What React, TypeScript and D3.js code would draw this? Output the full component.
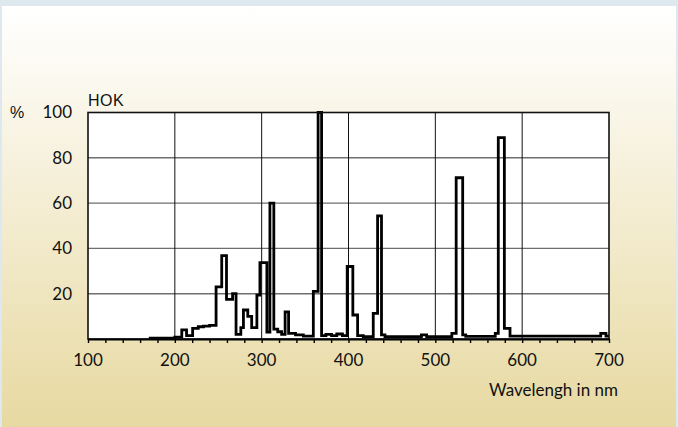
import React, { useEffect, useRef } from "react";
import * as d3 from "d3";

// step starts (nm) and relative intensity (%)
const wavelengths = [
  170, 200, 208, 213.5, 220.5, 227, 233, 240, 247.5, 254, 259.5, 266.5, 270.5,
  276, 279, 284, 288.5, 294.5, 298, 306, 309.5, 314, 318.5, 323, 327, 331, 339,
  348, 359.5, 365, 369, 374, 380.5, 386.5, 393, 398.5, 405, 410.5, 417, 428.5,
  433.5, 438, 442, 484, 490, 519, 524, 531.5, 535, 569, 572.5, 579.5, 586,
  690.5, 696.5, 700,
];
const intensity = [
  0.4, 0.8, 4, 1.5, 4.7, 5.4, 5.7, 6, 23, 36.8, 17.5, 20, 2, 5, 12.8, 10, 5,
  19.4, 33.7, 3, 60, 4.4, 3.2, 2, 12, 2.5, 1.8, 1.3, 21, 100, 1.5, 2, 1.5, 2.2,
  1.5, 32, 10.6, 1.5, 1, 11.3, 54.4, 1.8, 1, 1.8, 1, 2.5, 71.2, 1.8, 1.2, 2.5,
  88.9, 4.7, 1.3, 2.5, 1.3, 1.3,
];
const xTicks = [100, 200, 300, 400, 500, 600, 700];
const yTicks = [20, 40, 60, 80, 100];
const title = "HOK";
const xTitle = "Wavelengh in nm";

const App = () => {
  const ref = useRef(null);
  const width = 678;
  const height = 427;
  const left = 88;
  const right = 609;
  const top = 112.5;
  const bottom = 339;

  useEffect(() => {
    document.body.style.margin = "0";
    const svg = d3.select(ref.current);
    svg.selectAll("*").remove();

    const x = d3.scaleLinear([100, 700], [left, right]);
    const y = d3.scaleLinear([0, 100], [bottom, top]);

    // background
    const defs = svg.append("defs");
    const bg = defs
      .append("linearGradient")
      .attr("id", "bg")
      .attr("x1", 0)
      .attr("y1", 0)
      .attr("x2", 0)
      .attr("y2", 1);
    bg.append("stop").attr("offset", "0%").attr("stop-color", "#ffffff");
    bg.append("stop").attr("offset", "35%").attr("stop-color", "#f7f2df");
    bg.append("stop").attr("offset", "100%").attr("stop-color", "#e7d9a1");

    svg.append("rect").attr("width", width).attr("height", height).attr("fill", "#dde9ee");
    svg
      .append("rect")
      .attr("x", 2)
      .attr("y", 6)
      .attr("width", width - 4)
      .attr("height", height - 6)
      .attr("fill", "url(#bg)");

    // plot area
    svg
      .append("rect")
      .attr("x", left)
      .attr("y", top)
      .attr("width", right - left)
      .attr("height", bottom - top)
      .attr("fill", "#fff");

    // horizontal grid
    svg
      .append("g")
      .selectAll("line")
      .data(yTicks.slice(0, -1))
      .join("line")
      .attr("x1", left)
      .attr("x2", right)
      .attr("y1", (d) => y(d))
      .attr("y2", (d) => y(d))
      .attr("stroke", "#6e6e6e")
      .attr("stroke-width", 1.4);

    // vertical grid
    svg
      .append("g")
      .selectAll("line")
      .data(xTicks.slice(1, -1))
      .join("line")
      .attr("x1", (d) => x(d))
      .attr("x2", (d) => x(d))
      .attr("y1", top)
      .attr("y2", bottom)
      .attr("stroke", "#111")
      .attr("stroke-width", 1);

    // spectrum
    const pts = wavelengths.map((w, i) => [w, intensity[i]]);
    const line = d3
      .line()
      .x((d) => x(d[0]))
      .y((d) => y(d[1]))
      .curve(d3.curveStepAfter);
    svg
      .append("path")
      .attr("d", line(pts))
      .attr("fill", "none")
      .attr("stroke", "#000")
      .attr("stroke-width", 2.8)
      .attr("stroke-linejoin", "miter");

    // frame
    svg
      .append("rect")
      .attr("x", left)
      .attr("y", top)
      .attr("width", right - left)
      .attr("height", bottom - top)
      .attr("fill", "none")
      .attr("stroke", "#111")
      .attr("stroke-width", 1.6);

    // x axis with minor ticks every 20 nm
    svg
      .append("g")
      .attr("transform", `translate(0,${bottom})`)
      .call(
        d3
          .axisBottom(x)
          .tickValues(d3.range(100, 701, 20))
          .tickSize(4)
          .tickFormat(() => "")
          .tickSizeOuter(0)
      )
      .call((g) => g.select(".domain").attr("stroke-width", 2.2))
      .call((g) => g.selectAll(".tick line").attr("stroke-width", 1.4));

    svg
      .append("g")
      .selectAll("text")
      .data(xTicks)
      .join("text")
      .attr("x", (d) => x(d))
      .attr("y", 366)
      .attr("text-anchor", "middle")
      .attr("font-family", "Lato")
      .attr("font-size", 17)
      .attr("fill", "#111")
      .text((d) => d);

    svg
      .append("g")
      .selectAll("text")
      .data(yTicks)
      .join("text")
      .attr("x", 72)
      .attr("y", (d) => y(d))
      .attr("dy", "0.35em")
      .attr("text-anchor", "end")
      .attr("font-family", "Lato")
      .attr("font-size", 17)
      .attr("fill", "#111")
      .text((d) => d);

    svg
      .append("text")
      .attr("x", 10)
      .attr("y", y(100))
      .attr("dy", "0.35em")
      .attr("font-family", "Liberation Sans")
      .attr("font-size", 16)
      .attr("fill", "#111")
      .text("%");

    svg
      .append("text")
      .attr("x", left)
      .attr("y", 106)
      .attr("font-family", "Liberation Sans")
      .attr("font-size", 16)
      .attr("letter-spacing", 0.5)
      .attr("fill", "#111")
      .text(title);

    svg
      .append("text")
      .attr("x", 489)
      .attr("y", 396)
      .attr("font-family", "Lato")
      .attr("font-size", 17)
      .attr("fill", "#111")
      .text(xTitle);
  }, []);

  return (
    <div style={{ position: "absolute", left: 0, top: 0 }}>
      <svg ref={ref} width={width} height={height} style={{ display: "block" }} />
    </div>
  );
};

export default App;
